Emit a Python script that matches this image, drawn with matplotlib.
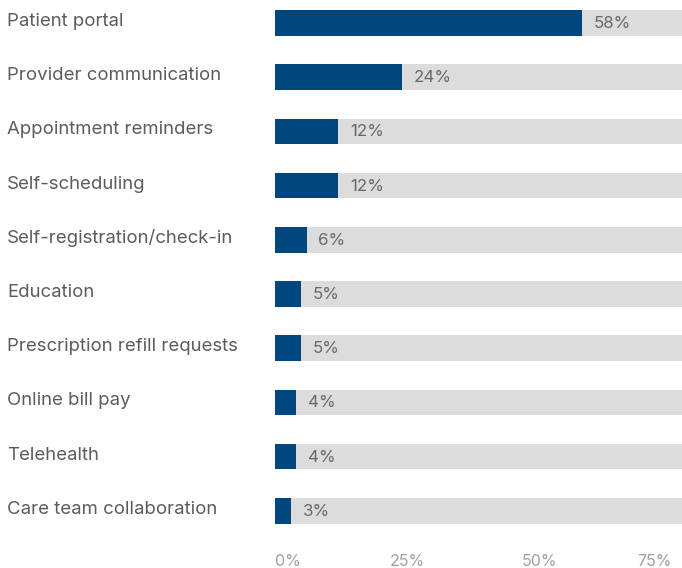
import matplotlib
matplotlib.use("Agg")
import matplotlib.pyplot as plt

categories = ["Patient portal", "Provider communication", "Appointment reminders",
              "Self-scheduling", "Self-registration/check-in", "Education",
              "Prescription refill requests", "Online bill pay", "Telehealth",
              "Care team collaboration"]
values = [58, 24, 12, 12, 6, 5, 5, 4, 4, 3]
xticks = [0, 25, 50, 75]
xtick_labels = ["0%", "25%", "50%", "75%"]

W, H = 682, 568
fig = plt.figure(figsize=(W / 100, H / 100), dpi=100)
plt.rcParams['font.family'] = ['Inter', 'DejaVu Sans']

ax_left_px, ax_right_px = 275, 682
ax_top_px, ax_bot_px = 0, 546
ax = fig.add_axes([ax_left_px / W, 1 - ax_bot_px / H,
                   (ax_right_px - ax_left_px) / W, (ax_bot_px - ax_top_px) / H])

xmax = 77
pitch = 54.2
first_c = 23
ax.set_xlim(0, xmax)
ax.set_ylim((ax_bot_px - first_c) / pitch, -first_c / pitch)

ys = list(range(len(categories)))
ax.barh(ys, [xmax] * len(ys), height=0.47, color="#dcdcdc", linewidth=0)
ax.barh(ys, values, height=0.47, color="#00467f", linewidth=0)

for y, v in zip(ys, values):
    ax.text(v + 2.2, y + 0.01, f"{v}%", va="center", ha="left", fontsize=12.2, color="#686868")

for y, c in zip(ys, categories):
    ypx = first_c + pitch * y - 1.5
    fig.text(7 / W, 1 - ypx / H, c, ha="left", va="center", fontsize=13.4, color="#5c5c5c")

for spine in ax.spines.values():
    spine.set_visible(False)
ax.set_yticks([])
ax.set_xticks(xticks)
ax.set_xticklabels(xtick_labels)
ax.tick_params(axis="x", length=0, pad=6, labelsize=11.5, labelcolor="#a0a0a0")
labels = ax.get_xticklabels()
labels[0].set_ha("left")
labels[-1].set_ha("right")

fig.savefig("out.png", dpi=100)
